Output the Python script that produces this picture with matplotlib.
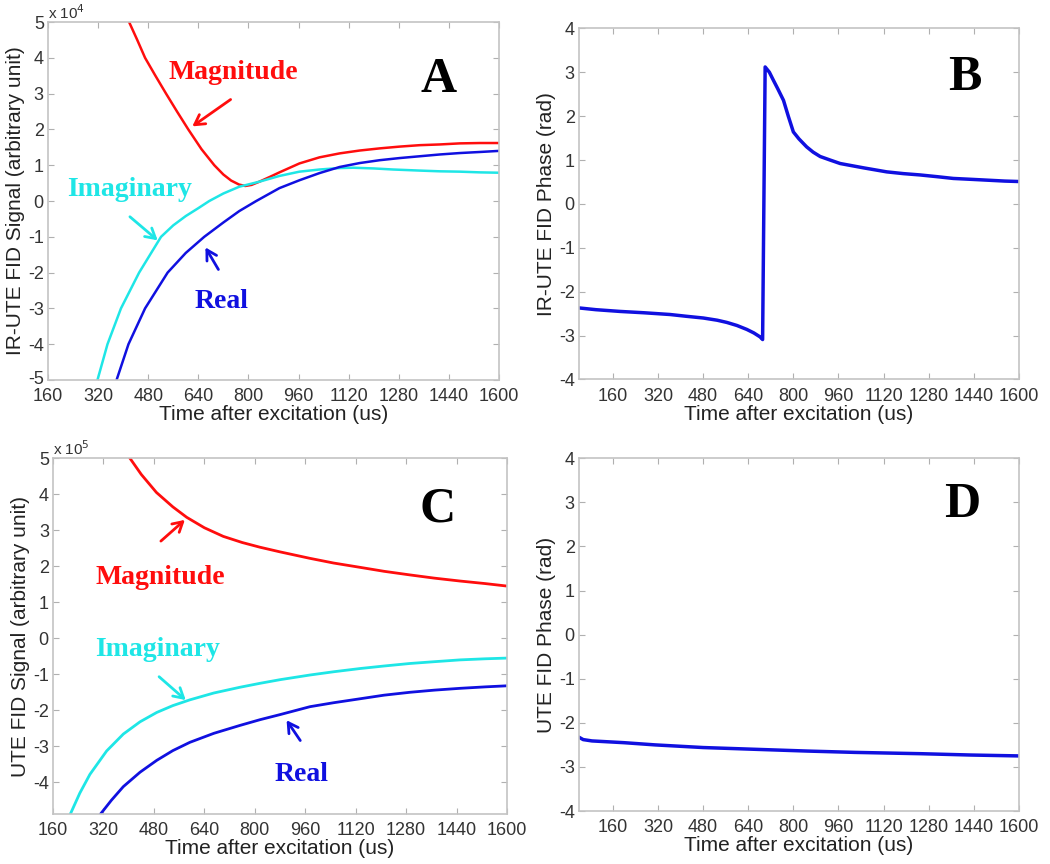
import numpy as np
import matplotlib.pyplot as plt
import matplotlib.transforms as mtransforms

plt.rcParams['axes.unicode_minus'] = False

# panel A: IR-UTE FID signal, x 10^4
t_mag_a = [419, 445, 470, 503, 537, 572, 608, 650, 691, 720, 745, 770, 790, 810, 835, 870, 899, 963,
           1027, 1091, 1155, 1219, 1283, 1347, 1411, 1475, 1540, 1600]
mag_a = [5.0, 4.5, 4.0, 3.5, 3.0, 2.5, 2.0, 1.45, 1.0, 0.74, 0.57, 0.46, 0.42, 0.45, 0.54, 0.68, 0.80, 1.05,
         1.22, 1.33, 1.41, 1.47, 1.52, 1.56, 1.58, 1.61, 1.62, 1.62]
t_imag_a = [318, 350, 393, 451, 521, 560, 600, 640, 675, 720, 771, 835, 899, 963, 1027, 1090, 1134, 1200,
            1262, 1347, 1410, 1475, 1540, 1600]
imag_a = [-5.0, -4.0, -3.0, -2.0, -1.0, -0.68, -0.42, -0.2, 0.0, 0.21, 0.40, 0.54, 0.70, 0.82, 0.88, 0.92,
          0.93, 0.91, 0.88, 0.85, 0.83, 0.82, 0.80, 0.79]
t_real_a = [379, 417, 470, 542, 600, 659, 720, 771, 825, 899, 963, 1027, 1091, 1155, 1219, 1283, 1347,
            1411, 1475, 1540, 1600]
real_a = [-5.0, -4.0, -3.0, -2.0, -1.45, -1.0, -0.6, -0.28, 0.0, 0.36, 0.58, 0.78, 0.95, 1.06, 1.14, 1.20,
          1.25, 1.30, 1.34, 1.37, 1.40]

# panel B: IR-UTE FID phase (rad)
t_phase_b = [40, 100, 186, 270, 363, 420, 481, 530, 564, 600, 635, 660, 682, 691, 700, 715, 729, 745, 765,
             782, 800, 820, 847, 870, 895, 930, 966, 1050, 1131, 1190, 1249, 1310, 1367, 1430, 1490, 1550, 1600]
phase_b = [-2.37, -2.41, -2.45, -2.48, -2.52, -2.56, -2.60, -2.65, -2.70, -2.77, -2.86, -2.94, -3.03, -3.09,
           3.12, 3.0, 2.82, 2.62, 2.36, 2.0, 1.64, 1.48, 1.30, 1.18, 1.08, 1.0, 0.92, 0.82, 0.73, 0.69, 0.66,
           0.62, 0.58, 0.56, 0.54, 0.52, 0.51]

# panel C: UTE FID signal, x 10^5
t_mag_c = [404, 440, 488, 540, 584, 640, 700, 760, 816, 880, 975, 1050, 1134, 1210, 1292, 1370, 1451, 1530, 1600]
mag_c = [5.0, 4.55, 4.05, 3.65, 3.36, 3.07, 2.83, 2.66, 2.53, 2.40, 2.22, 2.09, 1.97, 1.86, 1.76, 1.67, 1.59,
         1.52, 1.45]
t_imag_c = [214, 245, 277, 330, 383, 436, 489, 540, 594, 670, 753, 817, 880, 975, 1050, 1134, 1210, 1292,
            1370, 1451, 1530, 1600]
imag_c = [-4.9, -4.3, -3.78, -3.13, -2.66, -2.32, -2.06, -1.87, -1.71, -1.52, -1.36, -1.25, -1.15, -1.02,
          -0.93, -0.84, -0.77, -0.70, -0.65, -0.60, -0.57, -0.55]
t_real_c = [309, 345, 383, 436, 489, 540, 594, 670, 753, 817, 880, 975, 1050, 1134, 1210, 1292, 1370, 1451,
            1530, 1600]
real_c = [-4.9, -4.5, -4.12, -3.72, -3.39, -3.12, -2.89, -2.64, -2.42, -2.26, -2.12, -1.90, -1.79, -1.68,
          -1.58, -1.50, -1.44, -1.39, -1.35, -1.32]

# panel D: UTE FID phase (rad)
t_phase_d = [41, 55, 86, 200, 310, 480, 664, 850, 1018, 1254, 1430, 1600]
phase_d = [-2.33, -2.38, -2.41, -2.45, -2.50, -2.56, -2.60, -2.64, -2.67, -2.70, -2.73, -2.75]

xticks = [160, 320, 480, 640, 800, 960, 1120, 1280, 1440, 1600]

RED = '#ff0d0d'
CYAN = '#1ee6e6'
BLUE = '#1010e0'
SANS = 'Liberation Sans'
SERIF = 'Liberation Serif'

fig = plt.figure(figsize=(10.5, 8.64), dpi=100)

axA = fig.add_axes([0.0457, 0.5602, 0.4295, 0.4143])
axB = fig.add_axes([0.5514, 0.5608, 0.4191, 0.4064])
axC = fig.add_axes([0.0505, 0.0579, 0.4324, 0.4117])
axD = fig.add_axes([0.5514, 0.0613, 0.4191, 0.4083])


def style(ax, ylabel):
    for s in ax.spines.values():
        s.set_color('#c4c4c4')
        s.set_linewidth(1.2)
    ax.tick_params(direction='in', length=4, color='#b0b0b0', top=True, right=True,
                   labelsize=13, labelcolor='#333333')
    ax.tick_params(axis='x', pad=6)
    ax.tick_params(axis='y', pad=3)
    for lab in ax.get_xticklabels() + ax.get_yticklabels():
        lab.set_fontfamily(SANS)
    ax.set_xlabel('Time after excitation (us)', fontsize=15, family=SANS, color='#222222', labelpad=0)
    ax.set_ylabel(ylabel, fontsize=15, family=SANS, color='#222222', labelpad=2)


def arrow(ax, xy, xytext, color):
    ax.annotate('', xy=xy, xytext=xytext, xycoords='axes fraction', textcoords='axes fraction',
                arrowprops=dict(arrowstyle='->,head_length=0.7,head_width=0.4', color=color, lw=2))


def word(ax, txt, pos, color, size=20):
    ax.text(pos[0], pos[1], txt, transform=ax.transAxes, ha='center', va='center',
            fontsize=size, fontweight='bold', family=SERIF, color=color)


# A
axA.plot(t_mag_a, np.array(mag_a) * 1e4, color=RED, lw=1.8)
axA.plot(t_imag_a, np.array(imag_a) * 1e4, color=CYAN, lw=1.8)
axA.plot(t_real_a, np.array(real_a) * 1e4, color=BLUE, lw=1.8)
axA.set_xlim(160, 1600)
axA.set_ylim(-5e4, 5e4)
axA.set_xticks(xticks)
axA.set_yticks(np.arange(-5, 6) * 1e4)
axA.set_yticklabels([str(v) for v in range(-5, 6)])
style(axA, 'IR-UTE FID Signal (arbitrary unit)')
# lift the bottom "-5" a little so it clears the "160" below it
lowest = axA.get_yticklabels()[0]
lowest.set_transform(lowest.get_transform() + mtransforms.ScaledTranslation(0, 2 / 72, fig.dpi_scale_trans))
axA.text(0.0, 1.0, r'x 10$^4$', transform=axA.transAxes, ha='left', va='bottom', fontsize=11,
         family=SANS, color='#333333')
word(axA, 'Magnitude', (0.410, 0.858), RED)
arrow(axA, (0.315, 0.704), (0.410, 0.788), RED)
word(axA, 'Imaginary', (0.180, 0.531), CYAN)
arrow(axA, (0.248, 0.385), (0.177, 0.461), CYAN)
word(axA, 'Real', (0.386, 0.218), BLUE)
arrow(axA, (0.346, 0.377), (0.381, 0.302), BLUE)
word(axA, 'A', (0.865, 0.838), 'black', size=36)

# B
axB.plot(t_phase_b, phase_b, color=BLUE, lw=2.5)
axB.set_xlim(40, 1600)
axB.set_ylim(-4, 4)
axB.set_xticks(xticks)
axB.set_yticks(range(-4, 5))
style(axB, 'IR-UTE FID Phase (rad)')
word(axB, 'B', (0.877, 0.858), 'black', size=36)

# C
axC.plot(t_mag_c, np.array(mag_c) * 1e5, color=RED, lw=2.0)
axC.plot(t_imag_c, np.array(imag_c) * 1e5, color=CYAN, lw=2.0)
axC.plot(t_real_c, np.array(real_c) * 1e5, color=BLUE, lw=2.0)
axC.set_xlim(160, 1600)
axC.set_ylim(-4.88e5, 5e5)
axC.set_xticks(xticks)
axC.set_yticks(np.arange(-4, 6) * 1e5)
axC.set_yticklabels([str(v) for v in range(-4, 6)])
style(axC, 'UTE FID Signal (arbitrary unit)')
axC.text(0.0, 1.0, r'x 10$^5$', transform=axC.transAxes, ha='left', va='bottom', fontsize=11,
         family=SANS, color='#333333')
word(axC, 'Magnitude', (0.236, 0.666), RED)
arrow(axC, (0.295, 0.832), (0.233, 0.762), RED)
word(axC, 'Imaginary', (0.231, 0.461), CYAN)
arrow(axC, (0.297, 0.315), (0.229, 0.391), CYAN)
word(axC, 'Real', (0.548, 0.110), BLUE)
arrow(axC, (0.511, 0.270), (0.548, 0.200), BLUE)
word(axC, 'C', (0.848, 0.855), 'black', size=36)

# D
axD.plot(t_phase_d, phase_d, color=BLUE, lw=2.5)
axD.set_xlim(40, 1600)
axD.set_ylim(-4, 4)
axD.set_xticks(xticks)
axD.set_yticks(range(-4, 5))
style(axD, 'UTE FID Phase (rad)')
word(axD, 'D', (0.870, 0.868), 'black', size=36)

fig.savefig('out.png', dpi=100)
